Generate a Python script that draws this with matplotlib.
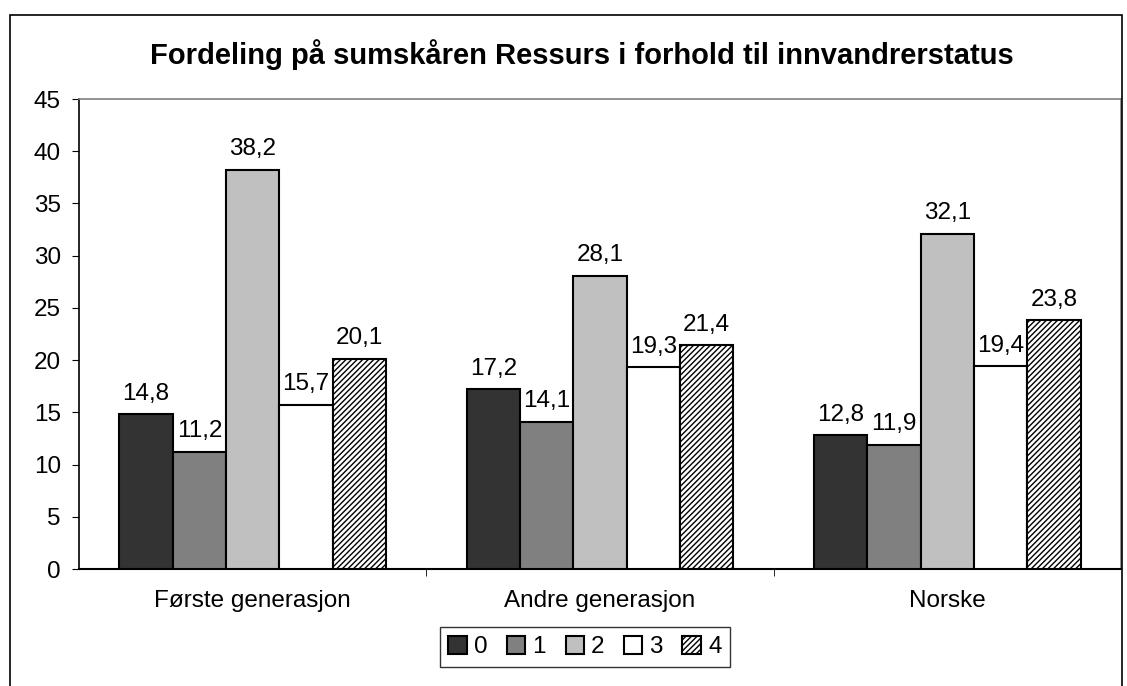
import matplotlib
matplotlib.use("Agg")
import matplotlib.pyplot as plt
import numpy as np
from matplotlib.patches import Rectangle

plt.rcParams['font.family'] = ['Liberation Sans', 'DejaVu Sans']
plt.rcParams['hatch.linewidth'] = 1.0

categories = ["Første generasjon", "Andre generasjon", "Norske"]
series_names = ["0", "1", "2", "3", "4"]
values = [
    [14.8, 17.2, 12.8],
    [11.2, 14.1, 11.9],
    [38.2, 28.1, 32.1],
    [15.7, 19.3, 19.4],
    [20.1, 21.4, 23.8],
]
colors = ["#333333", "#808080", "#c0c0c0", "#ffffff", "#ffffff"]
hatches = [None, None, None, None, "//////"]
yticks = [0, 5, 10, 15, 20, 25, 30, 35, 40, 45]

W, H = 1127, 686
FS = 17.5
fig = plt.figure(figsize=(W / 100, H / 100), dpi=100)
# outer chart border
fig.patches.append(Rectangle((10 / W, -0.05), (1122 - 10) / W, (H - 15) / H + 0.05,
                             transform=fig.transFigure, fill=False,
                             edgecolor="black", linewidth=1.2))

ax = fig.add_axes([79 / W, 1 - 569 / H, (1121 - 79) / W, (569 - 99) / H])
n = len(series_names)
bw = 0.1536
x = np.arange(len(categories))
for i in range(n):
    pos = x - (n * bw) / 2 + bw * (i + 0.5)
    bars = ax.bar(pos, values[i], width=bw, color=colors[i], edgecolor="black",
                  linewidth=1.5, hatch=hatches[i], label=series_names[i], zorder=3)
    for b, v in zip(bars, values[i]):
        ax.annotate(f"{v:.1f}".replace(".", ","), (b.get_x() + b.get_width() / 2, v),
                    xytext=(0, 7), textcoords="offset points", ha="center", va="bottom",
                    fontsize=FS)

ax.set_xlim(-0.5, len(categories) - 0.5)
ax.set_ylim(0, 45)
ax.set_yticks(yticks)
ax.set_yticklabels([str(t) for t in yticks], fontsize=FS)
ax.set_xticks(x)
ax.set_xticklabels(categories, fontsize=FS)
ax.tick_params(axis="x", length=0, pad=15)
ax.tick_params(axis="y", length=5, direction="out", pad=8)
ax.set_xticks([0.5, 1.5], minor=True)
ax.tick_params(axis="x", which="minor", length=5, direction="out")
for s in ["top", "right"]:
    ax.spines[s].set_color("#808080")
    ax.spines[s].set_linewidth(1.2)
ax.spines["left"].set_linewidth(1.2)
ax.spines["bottom"].set_linewidth(1.5)

fig.text(582 / W, 1 - 55 / H, "Fordeling på sumskåren Ressurs i forhold til innvandrerstatus",
         ha="center", va="center", fontsize=21, fontweight="bold")

leg = ax.legend(loc="center", bbox_to_anchor=((585 - 79) / (1121 - 79), -(647 - 569) / (569 - 99)),
                ncol=5, frameon=True, fancybox=False, edgecolor="black", fontsize=FS,
                handlelength=0.75, handleheight=0.75, handletextpad=0.3, columnspacing=0.8,
                borderpad=0.35)
leg.get_frame().set_linewidth(1.0)

fig.savefig("out.png", dpi=100)
